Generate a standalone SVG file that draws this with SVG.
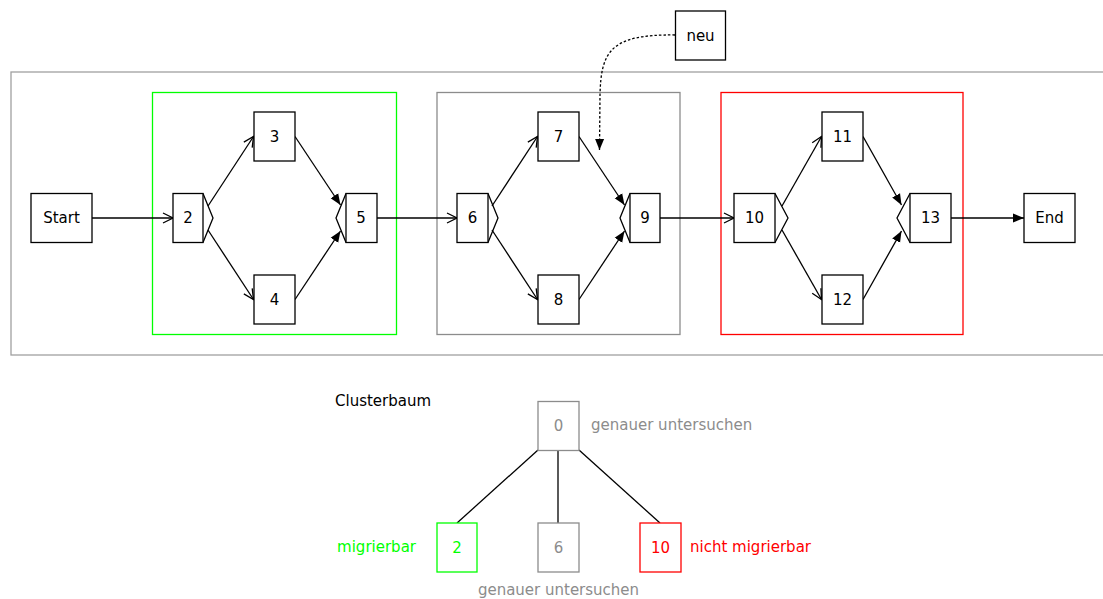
<svg xmlns="http://www.w3.org/2000/svg" width="1103" height="599" viewBox="0 0 1103 599">
<style>
text{font-family:"DejaVu Sans",sans-serif;font-size:15px;text-anchor:middle;dominant-baseline:central}
.n{fill:#fff;stroke:#000;stroke-width:1.3}
.c{fill:none;stroke:#000;stroke-width:1.3}
.e{fill:none;stroke:#000;stroke-width:1.3}
.eo{marker-end:url(#open)}
.ef{marker-end:url(#fill)}
</style>
<defs>
<marker id="open" markerUnits="userSpaceOnUse" markerWidth="12" markerHeight="12" viewBox="0 0 12 12" refX="11" refY="6" orient="auto">
<path d="M1,1 L11,6 L1,11" fill="none" stroke="#000" stroke-width="1.3"/>
</marker>
<marker id="fill" markerUnits="userSpaceOnUse" markerWidth="12" markerHeight="12" viewBox="0 0 12 12" refX="11" refY="6" orient="auto">
<path d="M0,1.5 L11,6 L0,10.5 Z" fill="#000"/>
</marker>
</defs>
<rect id="outer" x="11" y="72" width="1100" height="283" fill="none" stroke="#a0a0a0" stroke-width="1.3"/>
<g id="cluster2"><rect x="152.5" y="92.5" width="244" height="242" fill="none" stroke="#00ff00" stroke-width="1.3"/></g>
<g id="cluster6"><rect x="437" y="92.5" width="243" height="242" fill="none" stroke="#8c8c8c" stroke-width="1.3"/></g>
<g id="cluster10"><rect x="721" y="92.5" width="242" height="242" fill="none" stroke="#ff0000" stroke-width="1.3"/></g>

<g id="connectors">
<line class="e eo" x1="92" y1="218" x2="173" y2="218"/>
<line class="e eo" x1="208" y1="206" x2="253.5" y2="136.5"/>
<line class="e eo" x1="208" y1="230" x2="253.5" y2="299.5"/>
<line class="e ef" x1="295" y1="136.5" x2="340.5" y2="205"/>
<line class="e ef" x1="295" y1="299.5" x2="340.5" y2="231"/>
<line class="e eo" x1="377" y1="218" x2="457" y2="218"/>
<line class="e eo" x1="492" y1="206" x2="537.5" y2="136.5"/>
<line class="e eo" x1="492" y1="230" x2="537.5" y2="299.5"/>
<line class="e ef" x1="579" y1="136.5" x2="624.5" y2="205"/>
<line class="e ef" x1="579" y1="299.5" x2="624.5" y2="231"/>
<line class="e eo" x1="660" y1="218" x2="734" y2="218"/>
<line class="e eo" x1="782" y1="206" x2="821.5" y2="136.5"/>
<line class="e eo" x1="782" y1="230" x2="821.5" y2="299.5"/>
<line class="e ef" x1="863" y1="136.5" x2="901.5" y2="205"/>
<line class="e ef" x1="863" y1="299.5" x2="901.5" y2="231"/>
<line class="e ef" x1="951" y1="218" x2="1024" y2="218"/>
<path class="e ef" d="M675,35 C610,34 601,52 600,95 L599.5,150" stroke-dasharray="2.5,2"/>
<line class="e" x1="538" y1="450" x2="457" y2="523"/>
<line class="e" x1="558" y1="450" x2="558" y2="523"/>
<line class="e" x1="579" y1="450" x2="660" y2="523"/>
</g>

<g id="start"><rect class="n" x="31" y="193.5" width="61" height="49"/><text x="61.5" y="218">Start</text></g>
<g id="n2"><polyline class="c" points="203,193.5 213,218 203,242.5"/><rect class="n" x="173" y="193.5" width="30" height="49"/><text x="188" y="218">2</text></g>
<g id="n3"><rect class="n" x="254" y="112" width="41" height="49"/><text x="274.5" y="136.5">3</text></g>
<g id="n4"><rect class="n" x="254" y="275" width="41" height="49"/><text x="274.5" y="299.5">4</text></g>
<g id="n5"><polyline class="c" points="346,193.5 336,218 346,242.5"/><rect class="n" x="346" y="193.5" width="31" height="49"/><text x="361" y="218">5</text></g>
<g id="n6"><polyline class="c" points="488,193.5 498,218 488,242.5"/><rect class="n" x="457" y="193.5" width="31" height="49"/><text x="472.5" y="218">6</text></g>
<g id="n7"><rect class="n" x="538" y="112" width="41" height="49"/><text x="558.5" y="136.5">7</text></g>
<g id="n8"><rect class="n" x="538" y="275" width="41" height="49"/><text x="558.5" y="299.5">8</text></g>
<g id="n9"><polyline class="c" points="630,193.5 620,218 630,242.5"/><rect class="n" x="630" y="193.5" width="30" height="49"/><text x="645" y="218">9</text></g>
<g id="n10"><polyline class="c" points="775,193.5 788,218 775,242.5"/><rect class="n" x="734" y="193.5" width="41" height="49"/><text x="754.5" y="218">10</text></g>
<g id="n11"><rect class="n" x="822" y="112" width="41" height="49"/><text x="842.5" y="136.5">11</text></g>
<g id="n12"><rect class="n" x="822" y="275" width="41" height="49"/><text x="842.5" y="299.5">12</text></g>
<g id="n13"><polyline class="c" points="910,193.5 897,218 910,242.5"/><rect class="n" x="910" y="193.5" width="41" height="49"/><text x="930.5" y="218">13</text></g>
<g id="end"><rect class="n" x="1024" y="193.5" width="51" height="49"/><text x="1049.5" y="218">End</text></g>
<g id="neu"><rect class="n" x="675.5" y="11" width="50" height="49"/><text x="700.5" y="35.5">neu</text></g>

<g id="tree-label"><text x="335" y="401" style="text-anchor:start">Clusterbaum</text></g>
<g id="t0"><rect x="538" y="401.5" width="41" height="49" fill="#fff" stroke="#8c8c8c" stroke-width="1.3"/><text x="558.5" y="426" fill="#8c8c8c">0</text><text x="591" y="425" fill="#8c8c8c" style="text-anchor:start">genauer untersuchen</text></g>
<g id="t2"><rect x="437" y="523" width="40" height="49" fill="#fff" stroke="#00ff00" stroke-width="1.3"/><text x="457" y="547.5" fill="#00ff00">2</text><text x="416" y="547" fill="#00ff00" style="text-anchor:end">migrierbar</text></g>
<g id="t6"><rect x="538" y="523" width="41" height="49" fill="#fff" stroke="#8c8c8c" stroke-width="1.3"/><text x="558.5" y="547.5" fill="#8c8c8c">6</text><text x="558.5" y="590" fill="#8c8c8c">genauer untersuchen</text></g>
<g id="t10"><rect x="640" y="523" width="41" height="49" fill="#fff" stroke="#ff0000" stroke-width="1.3"/><text x="660.5" y="547.5" fill="#ff0000">10</text><text x="690" y="547" fill="#ff0000" style="text-anchor:start">nicht migrierbar</text></g>
</svg>
